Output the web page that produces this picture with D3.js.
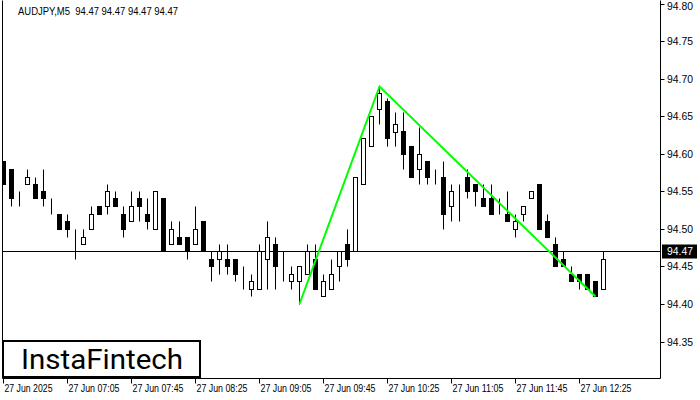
<!DOCTYPE html>
<html><head><meta charset="utf-8">
<script src="https://cdn.jsdelivr.net/npm/d3@7"></script>
<style>html,body{margin:0;padding:0;background:#fff;}svg{display:block;}</style>
</head><body>
<svg id="c" width="700" height="400"></svg>
<script>
// ---- data (AUDJPY M5, 27 Jun 2025, bars from 06:25) ----
const opens  = [94.590,94.580,94.550,94.560,94.560,94.550,94.530,94.520,94.510,94.490,
                94.480,94.500,94.530,94.530,94.541,94.520,94.510,94.541,94.520,94.500,
                94.541,94.480,94.490,94.490,94.480,94.510,94.460,94.460,94.460,94.460,
                94.430,94.420,94.420,94.460,94.480,94.440,94.430,94.430,94.440,94.460,
                94.410,94.420,94.450,94.480,94.470,94.560,94.610,94.660,94.671,94.630,
                94.631,94.611,94.580,94.591,94.560,94.570,94.530,94.560,94.570,94.560,
                94.541,94.541,94.530,94.520,94.500,94.520,94.541,94.560,94.510,94.480,
                94.460,94.440,94.440,94.440,94.430,94.420];
const highs  = [94.590,94.580,94.550,94.580,94.570,94.580,94.541,94.520,94.520,94.500,
                94.500,94.530,94.530,94.560,94.550,94.530,94.550,94.550,94.541,94.550,
                94.541,94.510,94.510,94.490,94.530,94.510,94.470,94.480,94.480,94.460,
                94.450,94.440,94.480,94.510,94.490,94.470,94.450,94.450,94.480,94.480,
                94.440,94.460,94.470,94.500,94.570,94.621,94.651,94.690,94.675,94.656,
                94.656,94.611,94.636,94.591,94.580,94.591,94.560,94.560,94.580,94.560,
                94.560,94.560,94.541,94.550,94.520,94.530,94.550,94.560,94.520,94.490,
                94.470,94.450,94.440,94.440,94.430,94.470];
const lows   = [94.560,94.530,94.530,94.560,94.541,94.530,94.520,94.500,94.490,94.460,
                94.480,94.500,94.520,94.520,94.530,94.490,94.510,94.510,94.500,94.500,
                94.470,94.480,94.480,94.460,94.480,94.470,94.430,94.440,94.440,94.430,
                94.420,94.410,94.420,94.420,94.420,94.430,94.420,94.400,94.440,94.420,
                94.410,94.420,94.430,94.450,94.470,94.560,94.610,94.640,94.610,94.610,
                94.580,94.570,94.560,94.560,94.560,94.500,94.510,94.510,94.541,94.530,
                94.530,94.520,94.520,94.510,94.490,94.510,94.541,94.500,94.490,94.450,
                94.450,94.430,94.420,94.420,94.410,94.420];
const closes = [94.560,94.541,94.550,94.570,94.541,94.541,94.530,94.500,94.500,94.490,
                94.490,94.520,94.520,94.550,94.530,94.500,94.530,94.530,94.510,94.550,
                94.470,94.500,94.480,94.470,94.500,94.470,94.450,94.470,94.450,94.440,
                94.430,94.430,94.470,94.490,94.450,94.440,94.440,94.450,94.470,94.420,
                94.430,94.440,94.470,94.460,94.570,94.621,94.651,94.681,94.621,94.640,
                94.600,94.570,94.600,94.570,94.560,94.520,94.550,94.560,94.550,94.550,
                94.530,94.520,94.530,94.510,94.510,94.530,94.550,94.500,94.490,94.450,
                94.450,94.430,94.430,94.420,94.410,94.460];
const priceTicks = [94.35,94.40,94.45,94.50,94.55,94.60,94.65,94.70,94.75,94.80];
const timeTickIdx = [0,8,16,24,32,40,48,56,64,72];
const timeTickLabels = ["27 Jun 2025","27 Jun 07:05","27 Jun 07:45","27 Jun 08:25","27 Jun 09:05",
                        "27 Jun 09:45","27 Jun 10:25","27 Jun 11:05","27 Jun 11:45","27 Jun 12:25"];
const patternIdx = [37,47,74];
const patternPrice = [94.40,94.69,94.41];
const currentPrice = 94.47;
const titleText = "AUDJPY,M5  94.47 94.47 94.47 94.47";
const logoText = "InstaFintech";

// ---- drawing ----
const svg = d3.select("#c");
const L = 2.5, R = 660.5, T = 0.5, B = 378.5;
const x = d3.scaleLinear().domain([0,1]).range([3.5,11.5]);
const y = d3.scaleLinear().domain([94.35,94.80]).range([341.5,4]);
const FONT = "'Liberation Sans', Arial, sans-serif";

svg.append("defs").append("clipPath").attr("id","plot")
  .append("rect").attr("x",3).attr("y",1).attr("width",R-3).attr("height",B-1);

const g = svg.append("g").attr("clip-path","url(#plot)");

// current price line
const py = v => Math.round(y(v))+0.5;
g.append("line").attr("x1",L).attr("x2",R)
  .attr("y1",py(currentPrice)).attr("y2",py(currentPrice))
  .attr("stroke","#000").attr("stroke-width",1);

const bars = d3.range(opens.length).map(i=>({i,o:opens[i],h:highs[i],l:lows[i],c:closes[i]}));

const cg = g.append("g");
cg.selectAll("line.w").data(bars).enter().append("line")
  .attr("x1",d=>x(d.i)).attr("x2",d=>x(d.i))
  .attr("y1",d=>py(d.h)).attr("y2",d=>py(d.l))
  .attr("stroke","#000").attr("stroke-width",1);
cg.selectAll("rect.b").data(bars).enter().append("rect")
  .attr("x",d=>x(d.i)-2).attr("width",4)
  .attr("y",d=>Math.min(py(d.o),py(d.c)))
  .attr("height",d=>Math.abs(py(d.o)-py(d.c)))
  .attr("fill",d=>d.c<d.o?"#000":"#fff")
  .attr("stroke","#000").attr("stroke-width",1);

// pattern line
const pts = patternIdx.map((k,j)=>[x(k),y(patternPrice[j])]);
g.append("path").attr("d",d3.line()(pts))
  .attr("fill","none").attr("stroke","#00ff00").attr("stroke-width",2);

// frame
svg.append("line").attr("x1",L).attr("x2",L).attr("y1",T).attr("y2",B).attr("stroke","#000");
svg.append("line").attr("x1",R).attr("x2",R).attr("y1",T).attr("y2",B).attr("stroke","#000");
svg.append("line").attr("x1",L).attr("x2",R).attr("y1",B).attr("y2",B).attr("stroke","#000");

// right axis
const ay = svg.append("g");
priceTicks.forEach(v=>{
  const yy = py(v);
  ay.append("line").attr("x1",R).attr("x2",R+4).attr("y1",yy).attr("y2",yy).attr("stroke","#000");
  ay.append("text").attr("x",667).attr("y",Math.max(yy,6)).attr("dy","0.35em")
    .attr("font-family",FONT).attr("font-size",10.5).attr("fill","#000")
    .attr("textLength",26).attr("lengthAdjust","spacingAndGlyphs").text(v.toFixed(2));
});
// current price label
const cy = py(currentPrice);
ay.append("rect").attr("x",662).attr("y",cy-7).attr("width",35).attr("height",14).attr("fill","#000");
ay.append("text").attr("x",667).attr("y",cy).attr("dy","0.35em")
  .attr("font-family",FONT).attr("font-size",10.5).attr("fill","#fff")
  .attr("textLength",26).attr("lengthAdjust","spacingAndGlyphs").text(currentPrice.toFixed(2));

// bottom axis
const ax = svg.append("g");
timeTickIdx.forEach((k,j)=>{
  const xx = x(k);
  ax.append("line").attr("x1",xx).attr("x2",xx).attr("y1",B).attr("y2",B+5).attr("stroke","#000");
  ax.append("text").attr("x",xx+1).attr("y",388).attr("dy","0.35em")
    .attr("font-family",FONT).attr("font-size",10).attr("fill","#000")
    .attr("textLength",j===0?48:51).attr("lengthAdjust","spacingAndGlyphs").text(timeTickLabels[j]);
});

// title
svg.append("text").attr("x",18).attr("y",11).attr("dy","0.35em")
  .attr("font-family",FONT).attr("font-size",10).attr("fill","#000")
  .style("white-space","pre")
  .attr("textLength",160).attr("lengthAdjust","spacingAndGlyphs").text(titleText);

// logo
svg.append("rect").attr("x",3).attr("y",341).attr("width",197).attr("height",36)
  .attr("fill","#fff").attr("stroke","#000").attr("stroke-width",2);
svg.append("text").attr("x",21).attr("y",359).attr("dy","0.36em")
  .attr("font-family","Roboto, 'Open Sans', sans-serif").attr("font-size",28)
  .attr("fill","#000").attr("textLength",162).attr("lengthAdjust","spacingAndGlyphs").text(logoText);
</script>
</body></html>
